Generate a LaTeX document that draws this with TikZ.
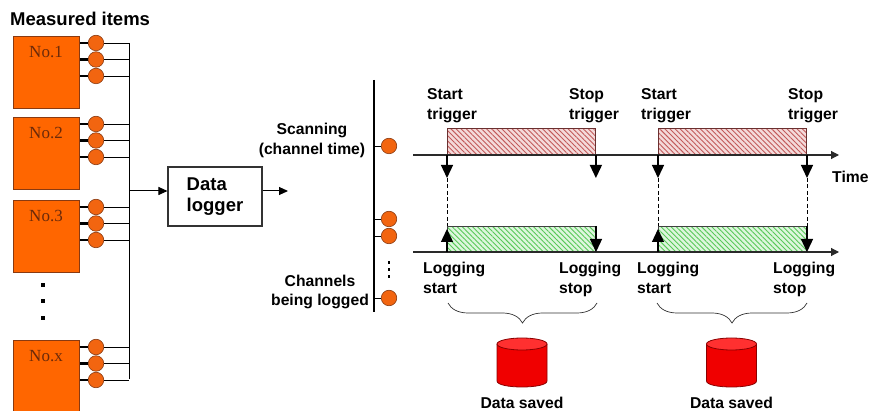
\documentclass[tikz,border=0pt]{standalone}
\usepackage{fontspec}
\newfontfamily\labfont{Liberation Sans}
\newfontfamily\nofont{Liberation Serif}
\usetikzlibrary{arrows.meta,patterns.meta,decorations.pathreplacing,calc}
\definecolor{orangefill}{HTML}{FF6600}
\definecolor{dotfill}{HTML}{F26510}
\definecolor{boxedge}{HTML}{8A3A10}
\definecolor{notext}{HTML}{6B2A0A}
\definecolor{axiscol}{HTML}{2A2A2A}
\definecolor{redbg}{HTML}{F4DADA}
\definecolor{redline}{HTML}{C25A5A}
\definecolor{redtop}{HTML}{6A3030}
\definecolor{greenbg}{HTML}{DDF6DD}
\definecolor{greenline}{HTML}{58C858}
\definecolor{cylbody}{HTML}{F00000}
\definecolor{cyltop}{HTML}{FF3030}
\definecolor{cyledge}{HTML}{8A0000}
\begin{document}
\begin{tikzpicture}[x=1pt,y=-1pt,
  itembox/.style={draw=boxedge, fill=orangefill, line width=1pt, minimum width=66pt, minimum height=72pt, inner sep=0, anchor=north west},
  dot/.style={circle, draw=boxedge, fill=dotfill, line width=0.6pt, minimum size=15.5pt, inner sep=0},
  sqdot/.style={fill=black, minimum size=4pt, inner sep=0},
  sqsmall/.style={fill=black, minimum width=2.5pt, minimum height=3pt, inner sep=0},
  stub/.style={line width=2.6pt, black},
  wire/.style={line width=0.9pt, black},
  vline/.style={line width=1.3pt, black},
  bigtxt/.style={font={\labfont\bfseries\fontsize{18.5}{20.5}\selectfont}, inner sep=0},
  lbl/.style={font={\labfont\bfseries\fontsize{15.7}{20}\selectfont}, inner sep=0, align=left, anchor=north west},
  notxt/.style={font={\nofont\fontsize{17}{17}\selectfont}, text=notext, inner sep=0},
  loggerbox/.style={draw=black!80, line width=1.1pt, minimum width=94pt, minimum height=59pt, inner sep=0, align=left, font={\labfont\bfseries\fontsize{18.5}{20.5}\selectfont}},
  smallarrow/.style={line width=1pt, -{Triangle[width=8pt,length=9pt]}},
  axis/.style={line width=1.1pt, draw=axiscol, -{Triangle[width=8pt,length=8pt]}},
  trig/.style={line width=1.3pt, -{Triangle[width=12pt,length=13pt]}},
  dashline/.style={line width=0.9pt, dash pattern=on 4pt off 2.5pt},
  redbox/.style={draw=redtop, line width=1pt, preaction={fill=redbg}, pattern={Lines[angle=-45,distance=3.6pt,line width=0.9pt]}, pattern color=redline, minimum width=148pt, minimum height=26pt, inner sep=0},
  greenbox/.style={draw=black!75, line width=1pt, preaction={fill=greenbg}, pattern={Lines[angle=-45,distance=3.6pt,line width=0.9pt]}, pattern color=greenline, minimum width=148pt, minimum height=25pt, inner sep=0},
  bracestyle/.style={line width=0.7pt, draw=black!80, decorate, decoration={brace, mirror, amplitude=20pt, aspect=0.5}}
]
\useasboundingbox (0,0) rectangle (870,411);

% ---------- left: measured items ----------
\node[bigtxt, anchor=base west] (title) at (10,26) {Measured items};

\coordinate (bustop) at (129,43);
\coordinate (busbot) at (129,379);
\foreach \i/\t/\n in {1/36/No.1,2/117/No.2,3/200/No.3,4/340/No.x}{
  \node[itembox] (b\i) at (13,\t) {};
  \node[notxt, anchor=base] (n\i) at (46,\t+22) {\n};
  \foreach \j/\dy in {1/7,2/23.5,3/40}{
    \node[dot] (c\i\j) at (96,\t+\dy) {};
    \draw[stub] (b\i.east |- c\i\j) -- (c\i\j.west);
    \draw[wire] (c\i\j.east) -- (bustop |- c\i\j);
  }
}
\draw[wire] (bustop) -- (busbot);
\foreach \k/\y in {1/285,2/301,3/318}{
  \node[sqdot] (d\k) at (43,\y) {};
}

\node[loggerbox] (logger) at (215,196.5) {Data\\logger};
\coordinate (busout) at (129,191);
\draw[smallarrow] (busout) -- (logger.west |- busout);
\coordinate (logout) at (288,191);
\draw[smallarrow] (logger.east |- logout) -- (logout);

% ---------- right: channels ----------
\coordinate (vtop) at (374,80);
\coordinate (vbot) at (374,312);
\draw[vline] (vtop) -- (vbot);
\node[lbl, align=center, anchor=north] (scanlbl) at (312,123) {Scanning\\(channel time)};
\node[lbl, align=center, anchor=north] (chanlbl) at (320,275) {Channels\\[-1.5pt]being logged};
\node[dot] (sc) at (389,146) {};
\draw[wire] (vtop |- sc) -- (sc.west);
\foreach \k/\y in {1/219,2/236,3/298}{
  \node[dot] (lc\k) at (389,\y) {};
  \draw[wire] (vtop |- lc\k) -- (lc\k.west);
}
\foreach \k/\y in {1/263,2/270,3/277}{
  \node[sqsmall] (e\k) at (389,\y) {};
}

% ---------- timing ----------
\foreach \k/\x in {1/447,2/658}{
  \node[redbox, anchor=south west] (r\k) at (\x,155) {};
  \node[greenbox, anchor=south west] (g\k) at (\x,252) {};
}
\coordinate (ax1s) at (413,155); \coordinate (ax1e) at (839,155);
\coordinate (ax2s) at (413,252); \coordinate (ax2e) at (839,252);
\draw[axis] (ax1s) -- (ax1e);
\draw[axis] (ax2s) -- (ax2e);

\foreach \k in {1,2}{
  \coordinate (st\k) at ($(r\k.south west)+(0,23)$);
  \coordinate (sp\k) at ($(r\k.south east)+(0,23)$);
  \coordinate (gu\k) at ($(g\k.north west)+(0,3)$);
  \draw[trig] (r\k.south west) -- (st\k);
  \draw[trig] (r\k.south east) -- (sp\k);
  \draw[dashline] (st\k) -- (g\k.north west);
  \draw[trig] (g\k.south west) -- (gu\k);
  \draw[trig] (g\k.north east) -- (g\k.south east);
}
\draw[dashline] (sp2) -- (g2.north east);

\node[lbl] (st1lbl) at (427,88) {Start\\trigger};
\node[lbl] (sp1lbl) at (569,88) {Stop\\trigger};
\node[lbl] (st2lbl) at (641,88) {Start\\trigger};
\node[lbl] (sp2lbl) at (788,88) {Stop\\trigger};
\node[lbl, anchor=base west] (timelbl) at (832,183) {Time};

\node[lbl] (ls1lbl) at (423,262) {Logging\\start};
\node[lbl] (le1lbl) at (559,262) {Logging\\stop};
\node[lbl] (ls2lbl) at (637,262) {Logging\\start};
\node[lbl] (le2lbl) at (773,262) {Logging\\stop};

% ---------- braces and storage ----------
\coordinate (br1a) at (448,303); \coordinate (br1b) at (597,303);
\coordinate (br2a) at (657,303); \coordinate (br2b) at (807,303);
\draw[bracestyle] (br1a) -- (br1b);
\draw[bracestyle] (br2a) -- (br2b);

\foreach \k/\cx in {1/522,2/731.5}{
  \fill[cylbody] (\cx-25,344) -- (\cx-25,381) .. controls (\cx-25,389) and (\cx+25,389) .. (\cx+25,381) -- (\cx+25,344) -- cycle;
  \draw[cyledge, line width=0.8pt] (\cx-25,344) -- (\cx-25,381) .. controls (\cx-25,389) and (\cx+25,389) .. (\cx+25,381) -- (\cx+25,344);
  \draw[cyledge, fill=cyltop, line width=0.8pt] (\cx,344) ellipse [x radius=25, y radius=6];
  \node[lbl, anchor=base] (save\k) at (\cx,408) {Data saved};
}
\end{tikzpicture}
\end{document}
